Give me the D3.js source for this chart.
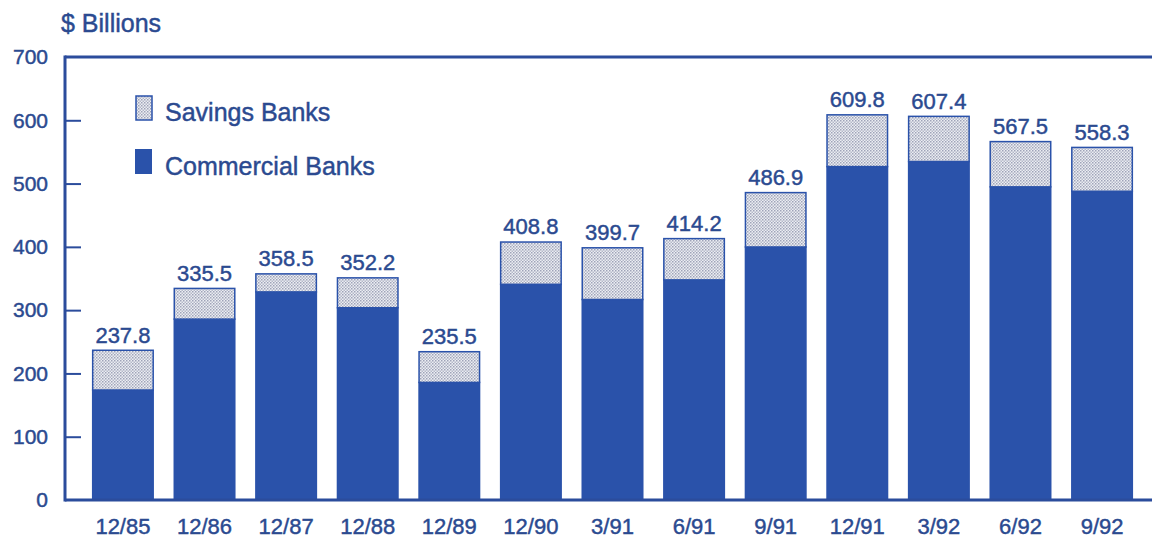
<!DOCTYPE html>
<html>
<head>
<meta charset="utf-8">
<script src="https://cdn.jsdelivr.net/npm/d3@7"></script>
<style>
  html, body { margin: 0; padding: 0; background: #ffffff; }
  svg { display: block; }
  text { font-family: "Liberation Sans", Arial, Helvetica, sans-serif; fill: #2b4a90; stroke: #2b4a90; stroke-width: 0.45px; }
</style>
</head>
<body>
<svg id="chart" width="1152" height="538"></svg>
<script>
const categories = ["12/85","12/86","12/87","12/88","12/89","12/90","3/91","6/91","9/91","12/91","3/92","6/92","9/92"];
const totalValues = [237.8, 335.5, 358.5, 352.2, 235.5, 408.8, 399.7, 414.2, 486.9, 609.8, 607.4, 567.5, 558.3];
const commercialValues = [175, 287, 330, 305, 187, 342, 318, 349, 401, 528, 536, 496, 489];
const yTicks = [0, 100, 200, 300, 400, 500, 600, 700];
const seriesNames = ["Savings Banks", "Commercial Banks"];

const blue = "#2a52aa";
const lineBlue = "#2b4c9c";

const svg = d3.select("#chart");
const defs = svg.append("defs");
const pat = defs.append("pattern").attr("id", "dots")
  .attr("patternUnits", "userSpaceOnUse").attr("width", 3).attr("height", 3);
pat.append("rect").attr("width", 3).attr("height", 3).attr("fill", "#eceef3");
pat.append("rect").attr("x", 0).attr("y", 0).attr("width", 1.5).attr("height", 1.5).attr("fill", "#9ea3b8");
pat.append("rect").attr("x", 1.5).attr("y", 1.5).attr("width", 1.5).attr("height", 1.5).attr("fill", "#b4b8c8");

const plotLeft = 65, plotTop = 57, plotBottom = 500;
const y = d3.scaleLinear().domain([0, 700]).range([plotBottom, plotTop]);
const x = d3.scaleBand().domain(categories)
  .range([plotLeft, 1160]).paddingInner(0.24).paddingOuter(0.33);

const g = svg.append("g");
g.selectAll("rect.com").data(categories).join("rect")
  .attr("class", "com")
  .attr("x", d => x(d))
  .attr("width", x.bandwidth())
  .attr("y", (d, i) => y(commercialValues[i]))
  .attr("height", (d, i) => y(0) - y(commercialValues[i]))
  .attr("fill", blue);

g.selectAll("rect.sav").data(categories).join("rect")
  .attr("class", "sav")
  .attr("x", d => x(d) + 0.75)
  .attr("width", x.bandwidth() - 1.5)
  .attr("y", (d, i) => y(totalValues[i]) + 0.75)
  .attr("height", (d, i) => y(commercialValues[i]) - y(totalValues[i]))
  .attr("fill", "url(#dots)")
  .attr("stroke", blue).attr("stroke-width", 1.5);

g.selectAll("text.val").data(categories).join("text")
  .attr("class", "val")
  .attr("x", d => x(d) + x.bandwidth() / 2)
  .attr("y", (d, i) => y(totalValues[i]) - 7)
  .attr("text-anchor", "middle")
  .attr("font-size", 22)
  .text((d, i) => totalValues[i].toFixed(1));

svg.append("line").attr("x1", plotLeft).attr("x2", 1152).attr("y1", plotTop).attr("y2", plotTop)
  .attr("stroke", lineBlue).attr("stroke-width", 3);
svg.append("line").attr("x1", plotLeft).attr("x2", 1152).attr("y1", plotBottom).attr("y2", plotBottom)
  .attr("stroke", lineBlue).attr("stroke-width", 3);
svg.append("line").attr("x1", plotLeft).attr("x2", plotLeft).attr("y1", plotTop - 1.5).attr("y2", plotBottom + 1.5)
  .attr("stroke", lineBlue).attr("stroke-width", 3);

const yAxis = d3.axisRight(y).tickValues(yTicks.filter(t => t > 0 && t < 700)).tickSize(16).tickFormat("");
const ya = svg.append("g").attr("transform", `translate(${plotLeft},0)`).call(yAxis);
ya.select(".domain").remove();
ya.selectAll(".tick line").attr("stroke", lineBlue).attr("stroke-width", 2);

const yl = d3.axisLeft(y).tickValues(yTicks).tickSize(0).tickPadding(0);
const yla = svg.append("g").attr("transform", `translate(48,0)`).call(yl);
yla.select(".domain").remove();
yla.selectAll("text").attr("font-size", 21).attr("font-family", "Liberation Sans, Arial, sans-serif").attr("fill", "#2b4a90");

const xa = d3.axisBottom(x).tickSize(0).tickPadding(0);
const xag = svg.append("g").attr("transform", `translate(0,${plotBottom})`).call(xa);
xag.select(".domain").remove();
xag.selectAll("text").attr("font-size", 22).attr("dy", null).attr("y", 34)
  .attr("font-family", "Liberation Sans, Arial, sans-serif").attr("fill", "#2b4a90");

svg.append("text").attr("x", 61).attr("y", 32).attr("font-size", 25).text("$ Billions");

const leg = svg.append("g");
leg.append("rect").attr("x", 136).attr("y", 96).attr("width", 16).attr("height", 24)
  .attr("fill", "url(#dots)").attr("stroke", blue).attr("stroke-width", 1.5);
leg.append("rect").attr("x", 135).attr("y", 149).attr("width", 17).attr("height", 25).attr("fill", blue);
leg.append("text").attr("x", 165).attr("y", 121).attr("font-size", 25).text(seriesNames[0]);
leg.append("text").attr("x", 165).attr("y", 175).attr("font-size", 25).text(seriesNames[1]);
</script>
</body>
</html>
